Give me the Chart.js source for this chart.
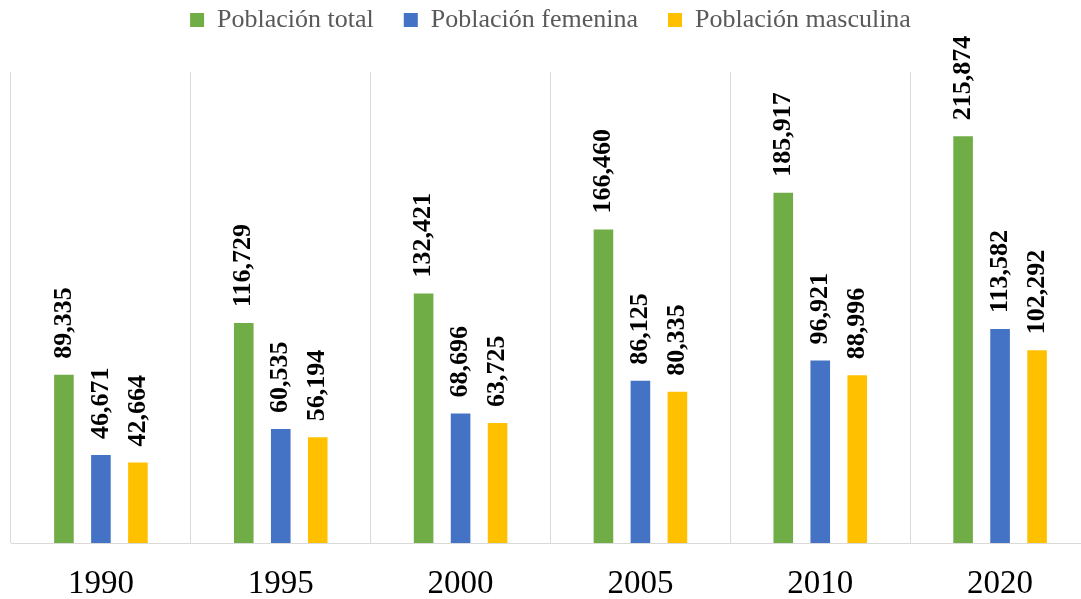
<!DOCTYPE html>
<html>
<head>
<meta charset="utf-8">
<script src="https://cdn.jsdelivr.net/npm/chart.js@4"></script>
<style>
  html, body { margin: 0; padding: 0; background: #fff; overflow: hidden; }
  #wrap { width: 1100px; height: 599px; }
</style>
</head>
<body>
<div id="wrap"><canvas id="chart" width="1100" height="599"></canvas></div>
<script>
const years = ['1990', '1995', '2000', '2005', '2010', '2020'];
const totalPop = [89335, 116729, 132421, 166460, 185917, 215874];
const femalePop = [46671, 60535, 68696, 86125, 96921, 113582];
const malePop = [42664, 56194, 63725, 80335, 88996, 102292];

const serif = '"Liberation Serif", "Times New Roman", serif';

// vertical value labels above each bar
const barLabels = {
  id: 'barLabels',
  afterDatasetsDraw(chart) {
    const ctx = chart.ctx;
    ctx.save();
    ctx.font = 'bold 26px ' + serif;
    ctx.fillStyle = '#000';
    ctx.textAlign = 'left';
    ctx.textBaseline = 'middle';
    chart.data.datasets.forEach((ds, i) => {
      chart.getDatasetMeta(i).data.forEach((bar, j) => {
        ctx.save();
        ctx.translate(bar.x, bar.y - 16);
        ctx.rotate(-Math.PI / 2);
        ctx.fillText(ds.data[j].toLocaleString('en-US'), 0, 0);
        ctx.restore();
      });
    });
    ctx.restore();
  }
};

// fix the legend box height so the plot starts where it should
const legendHeight = {
  id: 'legendHeight',
  beforeInit(chart) {
    const fit = chart.legend.fit;
    chart.legend.fit = function () {
      fit.bind(chart.legend)();
      this.height = 95;
    };
  }
};

new Chart(document.getElementById('chart'), {
  type: 'bar',
  data: {
    labels: years,
    datasets: [
      { label: 'Población total', data: totalPop, backgroundColor: '#70AD47' },
      { label: 'Población femenina', data: femalePop, backgroundColor: '#4472C4' },
      { label: 'Población masculina', data: malePop, backgroundColor: '#FFC000' }
    ]
  },
  options: {
    responsive: false,
    animation: false,
    devicePixelRatio: 1,
    categoryPercentage: 0.617,
    barPercentage: 0.53,
    layout: { padding: { top: -23, left: 11, right: 10, bottom: 0 } },
    plugins: {
      legend: {
        position: 'top',
        labels: {
          boxWidth: 14,
          boxHeight: 14,
          padding: 30,
          color: '#595959',
          font: { family: serif, size: 26 }
        }
      },
      tooltip: { enabled: false }
    },
    scales: {
      x: {
        afterFit(scale) { scale.height = 56; },
        grid: { color: '#d9d9d9', lineWidth: 1, drawTicks: false, offset: true },
        border: { color: '#d9d9d9', width: 1 },
        ticks: {
          color: '#000',
          padding: 25,
          font: { family: serif, size: 33, lineHeight: 1 }
        }
      },
      y: {
        display: false,
        min: 0,
        max: 250000
      }
    }
  },
  plugins: [barLabels, legendHeight]
});
</script>
</body>
</html>
